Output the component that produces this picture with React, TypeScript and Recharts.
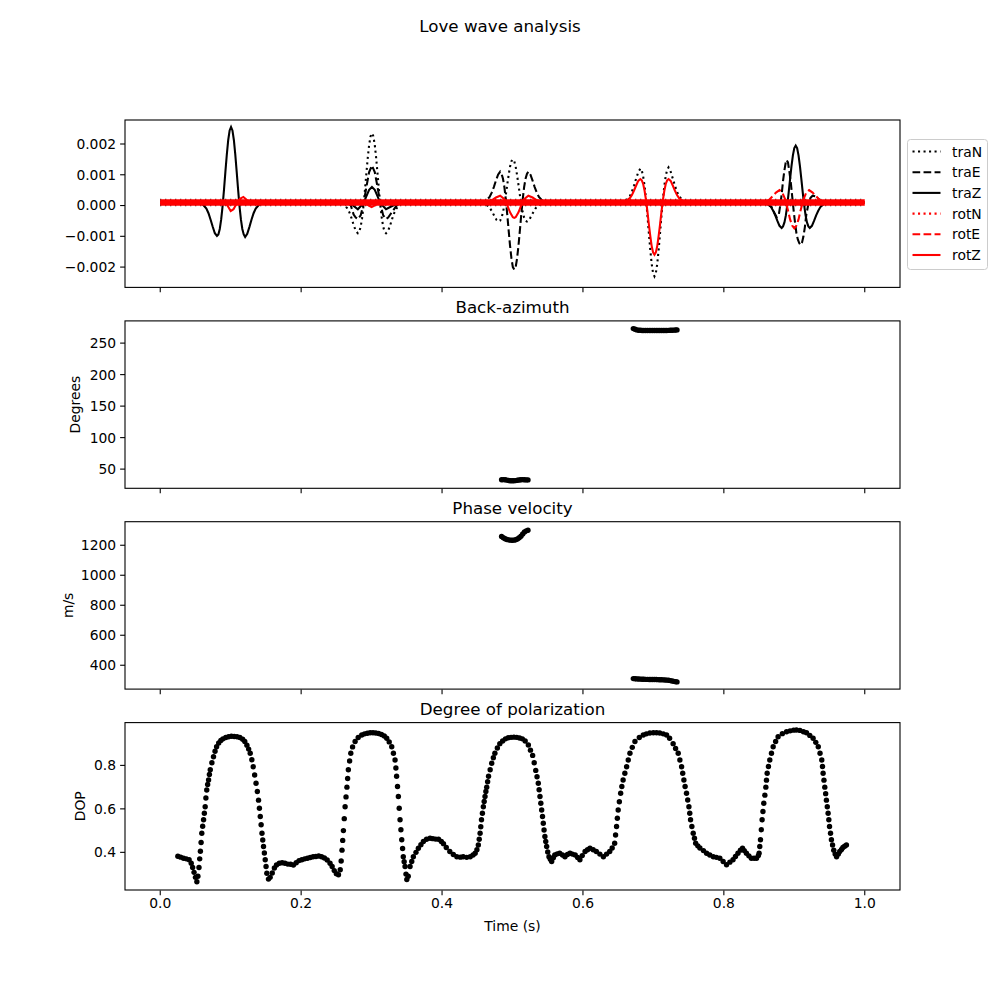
import { ComposedChart, Line, Scatter, XAxis, YAxis } from 'recharts'

type Pt = [number, number]

// seismograms: [time s, amplitude x 1e-3]
const TRA_N: Pt[] = [
  [0, 0.1], [0.255, 0.1],
  [0.2605, 0.04], [0.2655, -0.09], [0.2685, -0.22], [0.2715, -0.41], [0.2745, -0.63], [0.2775, -0.82], [0.2805, -0.9], [0.2825, -0.85], [0.2845, -0.69], [0.2865, -0.41], [0.2885, -0.01], [0.2905, 0.49], [0.2925, 1.02], [0.2945, 1.54], [0.2965, 1.97], [0.2985, 2.25], [0.3005, 2.35], [0.3025, 2.25], [0.3045, 1.97], [0.3065, 1.54], [0.3085, 1.02], [0.3105, 0.49], [0.3125, -0.01], [0.3145, -0.41], [0.3165, -0.69], [0.3185, -0.85], [0.3205, -0.9], [0.3235, -0.82], [0.3265, -0.63], [0.3295, -0.41], [0.3325, -0.22], [0.3355, -0.09], [0.3405, 0.04], [0.345, 0.1],
  [0.455, 0.1], [0.4605, 0.06], [0.4655, -0.02], [0.4685, -0.1], [0.4715, -0.22], [0.4745, -0.35], [0.4775, -0.47], [0.4805, -0.52], [0.4825, -0.49], [0.4845, -0.39], [0.4865, -0.22], [0.4885, 0.03], [0.4905, 0.34], [0.4925, 0.67], [0.4945, 0.99], [0.4965, 1.26], [0.4985, 1.44], [0.5005, 1.5], [0.5025, 1.44], [0.5045, 1.26], [0.5065, 0.99], [0.5085, 0.67], [0.5105, 0.34], [0.5125, 0.03], [0.5145, -0.22], [0.5165, -0.39], [0.5185, -0.49], [0.5205, -0.52], [0.5235, -0.47], [0.5265, -0.35], [0.5295, -0.22], [0.5325, -0.1], [0.5355, -0.02], [0.5405, 0.06], [0.545, 0.1],
  [0.655, 0.1], [0.6615, 0.17], [0.6665, 0.3], [0.6695, 0.45], [0.6725, 0.65], [0.6755, 0.88], [0.6785, 1.08], [0.6815, 1.2], [0.6835, 1.14], [0.6855, 0.94], [0.6875, 0.64], [0.6895, 0.21], [0.6915, -0.31], [0.6935, -0.88], [0.6955, -1.43], [0.6975, -1.89], [0.6995, -2.19], [0.7015, -2.3], [0.7035, -2.19], [0.7055, -1.89], [0.7075, -1.43], [0.7095, -0.88], [0.7115, -0.31], [0.7135, 0.21], [0.7155, 0.64], [0.7175, 0.96], [0.7195, 1.16], [0.7215, 1.24], [0.7245, 1.1], [0.7275, 0.88], [0.7305, 0.65], [0.7335, 0.45], [0.7365, 0.3], [0.7415, 0.17], [0.748, 0.1],
  [1, 0.1],
]

const TRA_E: Pt[] = [
  [0, 0.1], [0.265, 0.1],
  [0.2705, 0.0], [0.2745, -0.29], [0.2775, -0.39], [0.2805, -0.44], [0.2845, -0.32], [0.2885, 0.04], [0.2925, 0.59], [0.2965, 1.09], [0.3005, 1.3], [0.3045, 1.09], [0.3085, 0.59], [0.3125, 0.04], [0.3165, -0.32], [0.3205, -0.44], [0.3235, -0.39], [0.3265, -0.29], [0.3355, 0.0], [0.342, 0.1],
  [0.455, 0.1], [0.4625, 0.16], [0.4675, 0.28], [0.4705, 0.42], [0.4735, 0.6], [0.4765, 0.81], [0.4795, 1.0], [0.4825, 1.1], [0.4845, 1.03], [0.4865, 0.87], [0.4885, 0.6], [0.4905, 0.2], [0.4925, -0.28], [0.4945, -0.8], [0.4965, -1.3], [0.4985, -1.72], [0.5005, -2.0], [0.5025, -2.08], [0.5045, -2.0], [0.5065, -1.72], [0.5085, -1.3], [0.5105, -0.8], [0.5125, -0.28], [0.5145, 0.2], [0.5165, 0.6], [0.5185, 0.87], [0.5205, 1.03], [0.5225, 1.1], [0.5255, 1.0], [0.5285, 0.81], [0.5315, 0.6], [0.5345, 0.42], [0.5375, 0.28], [0.5425, 0.16], [0.55, 0.1],
  [0.855, 0.1], [0.862, 0.05], [0.868, -0.05], [0.872, -0.25], [0.875, -0.38], [0.878, -0.3], [0.88, 0.0], [0.882, 0.35], [0.884, 0.8], [0.886, 1.15], [0.888, 1.42], [0.889, 1.48], [0.891, 1.4], [0.893, 1.1], [0.895, 0.75], [0.897, 0.3], [0.899, -0.15], [0.901, -0.55], [0.903, -0.9], [0.905, -1.1], [0.907, -1.22], [0.909, -1.28], [0.911, -1.2], [0.913, -1.0], [0.915, -0.7], [0.917, -0.3], [0.92, 0.05], [0.923, 0.25], [0.926, 0.32], [0.93, 0.3], [0.935, 0.2], [0.942, 0.1],
  [1, 0.1],
]

const TRA_Z: Pt[] = [
  [0, 0.1], [0.055, 0.1],
  [0.0605, 0.03], [0.0655, -0.1], [0.0685, -0.25], [0.0715, -0.46], [0.0745, -0.69], [0.0775, -0.9], [0.0805, -0.99], [0.0825, -0.94], [0.0845, -0.76], [0.0865, -0.45], [0.0885, -0.02], [0.0905, 0.52], [0.0925, 1.1], [0.0945, 1.66], [0.0965, 2.13], [0.0985, 2.44], [0.1005, 2.55], [0.1025, 2.44], [0.1045, 2.13], [0.1065, 1.66], [0.1085, 1.1], [0.1105, 0.52], [0.1125, -0.02], [0.1145, -0.45], [0.1165, -0.76], [0.1185, -0.94], [0.1205, -1.02], [0.1235, -0.92], [0.1265, -0.7], [0.1295, -0.46], [0.1325, -0.25], [0.1355, -0.1], [0.1405, 0.03], [0.146, 0.1],
  [0.265, 0.1], [0.2705, 0.06], [0.2805, -0.12], [0.2885, 0.08], [0.2925, 0.3], [0.2965, 0.51], [0.3005, 0.6], [0.3045, 0.51], [0.3085, 0.3], [0.3125, 0.08], [0.3205, -0.12], [0.3305, 0.0], [0.34, 0.1],
  [0.857, 0.1], [0.862, 0.05], [0.867, -0.05], [0.87, -0.17], [0.873, -0.32], [0.876, -0.5], [0.879, -0.66], [0.882, -0.73], [0.884, -0.68], [0.886, -0.55], [0.888, -0.32], [0.89, 0.01], [0.892, 0.42], [0.894, 0.86], [0.896, 1.28], [0.898, 1.63], [0.9, 1.87], [0.902, 1.95], [0.904, 1.87], [0.906, 1.63], [0.908, 1.28], [0.91, 0.86], [0.912, 0.42], [0.914, 0.01], [0.916, -0.32], [0.918, -0.55], [0.92, -0.68], [0.922, -0.73], [0.925, -0.66], [0.928, -0.5], [0.931, -0.32], [0.934, -0.17], [0.937, -0.05], [0.942, 0.05], [0.947, 0.1],
  [1, 0.1],
]

const ROT_N: Pt[] = [[0, 0.1], [1, 0.1]]

const ROT_E: Pt[] = [
  [0, 0.1], [0.858, 0.1], [0.864, 0.18], [0.869, 0.3], [0.874, 0.42], [0.879, 0.5], [0.883, 0.42], [0.887, 0.2], [0.891, -0.15], [0.894, -0.45], [0.897, -0.65], [0.9, -0.74], [0.903, -0.65], [0.906, -0.45], [0.909, -0.15], [0.913, 0.2], [0.917, 0.42], [0.921, 0.5], [0.926, 0.42], [0.931, 0.3], [0.936, 0.18], [0.942, 0.1], [1, 0.1],
]

const ROT_Z: Pt[] = [
  [0, 0.1], [0.09, 0.1], [0.095, 0.02], [0.1, -0.18], [0.104, -0.12], [0.108, 0.05], [0.113, 0.22], [0.118, 0.28], [0.123, 0.18], [0.128, 0.1],
  [0.29, 0.1], [0.296, 0.0], [0.3, -0.05], [0.304, 0.0], [0.31, 0.1],
  [0.463, 0.1], [0.4705, 0.17], [0.4765, 0.26], [0.4825, 0.32], [0.4885, 0.21], [0.4925, 0.01], [0.4965, -0.22], [0.5005, -0.38], [0.5025, -0.4], [0.5045, -0.38], [0.5085, -0.22], [0.5125, 0.01], [0.5165, 0.21], [0.5225, 0.32], [0.5285, 0.26], [0.5345, 0.17], [0.5425, 0.11], [0.548, 0.1],
  [0.655, 0.1], [0.6615, 0.15], [0.6665, 0.24], [0.6695, 0.34], [0.6725, 0.49], [0.6755, 0.65], [0.6785, 0.8], [0.6815, 0.86], [0.6835, 0.82], [0.6855, 0.7], [0.6875, 0.48], [0.6895, 0.18], [0.6915, -0.19], [0.6935, -0.6], [0.6955, -0.98], [0.6975, -1.31], [0.6995, -1.52], [0.7015, -1.6], [0.7035, -1.52], [0.7055, -1.31], [0.7075, -0.98], [0.7095, -0.6], [0.7115, -0.19], [0.7135, 0.18], [0.7155, 0.48], [0.7175, 0.7], [0.7195, 0.82], [0.7215, 0.86], [0.7245, 0.8], [0.7275, 0.65], [0.7305, 0.49], [0.7335, 0.34], [0.7365, 0.24], [0.7415, 0.15], [0.748, 0.1],
  [1, 0.1],
]

// background noise level shared by all traces
const NOISE: Pt[] = [[0, 0.1], [1, 0.1]]

// back-azimuth (degrees)
const BAZ: Pt[] = [
  [0.4845, 33], [0.487, 33.3], [0.4895, 33], [0.492, 32.6], [0.4945, 32], [0.497, 31.6], [0.4995, 31.5], [0.502, 31.5], [0.5045, 31.8], [0.507, 32.3], [0.5095, 32.8], [0.512, 33.2], [0.5145, 33.3], [0.517, 33.1], [0.5195, 32.9], [0.522, 32.9],
  [0.6715, 273], [0.674, 272], [0.6765, 271], [0.679, 270.5], [0.6815, 270.3], [0.684, 270.1], [0.6865, 270], [0.689, 270], [0.6915, 270], [0.694, 270], [0.6965, 270], [0.699, 270], [0.7015, 270], [0.704, 270], [0.7065, 270], [0.709, 270], [0.7115, 270], [0.714, 270], [0.7165, 270], [0.719, 270.1], [0.7215, 270.2], [0.724, 270.3], [0.7265, 270.4], [0.729, 270.6], [0.7315, 270.8], [0.7335, 271],
]

// phase velocity (m/s)
const VEL: Pt[] = [
  [0.4845, 1258], [0.487, 1250], [0.4895, 1243], [0.492, 1238], [0.4945, 1236], [0.497, 1234], [0.4995, 1233], [0.502, 1234], [0.5045, 1237], [0.507, 1242], [0.5095, 1250], [0.512, 1260], [0.5145, 1275], [0.517, 1288], [0.5195, 1296], [0.522, 1300],
  [0.6715, 311], [0.674, 310], [0.6765, 309], [0.679, 308], [0.6815, 307.5], [0.684, 307], [0.6865, 306.5], [0.689, 306], [0.6915, 305.5], [0.694, 305], [0.6965, 305], [0.699, 305], [0.7015, 305], [0.704, 304.5], [0.7065, 304], [0.709, 303.5], [0.7115, 303], [0.714, 302.5], [0.7165, 302], [0.719, 301], [0.7215, 299.5], [0.724, 297.5], [0.7265, 295], [0.729, 292.5], [0.7315, 290.5], [0.7335, 289],
]

// degree of polarization
const DOP: Pt[] = [
  [0.025, 0.382], [0.029, 0.378], [0.033, 0.373], [0.037, 0.37], [0.041, 0.366], [0.044, 0.35], [0.046, 0.33], [0.048, 0.308], [0.05, 0.285], [0.052, 0.265],
  [0.0535, 0.29], [0.055, 0.33], [0.056, 0.37], [0.057, 0.405], [0.058, 0.445], [0.059, 0.488], [0.0602, 0.52], [0.0615, 0.55], [0.0626, 0.58], [0.0638, 0.61], [0.0648, 0.65], [0.066, 0.687], [0.0673, 0.712], [0.0686, 0.733], [0.0698, 0.758], [0.071, 0.78], [0.0733, 0.812], [0.0756, 0.84], [0.0778, 0.865], [0.08, 0.886], [0.083, 0.903], [0.086, 0.915],
  [0.089, 0.922], [0.093, 0.928], [0.097, 0.932], [0.101, 0.934], [0.105, 0.933], [0.109, 0.932], [0.113, 0.928], [0.117, 0.92], [0.12, 0.91],
  [0.123, 0.893], [0.1255, 0.875], [0.1277, 0.856], [0.13, 0.826], [0.132, 0.794], [0.134, 0.756], [0.136, 0.718], [0.1378, 0.68], [0.1395, 0.64], [0.1408, 0.603], [0.142, 0.565], [0.1432, 0.527], [0.1444, 0.488], [0.1455, 0.457], [0.1466, 0.427], [0.1478, 0.397], [0.149, 0.366], [0.1502, 0.335], [0.1513, 0.304], [0.1536, 0.277],
  [0.156, 0.285], [0.159, 0.305], [0.162, 0.328], [0.165, 0.342], [0.169, 0.35], [0.173, 0.352], [0.177, 0.35], [0.181, 0.346], [0.185, 0.345], [0.189, 0.342], [0.193, 0.352], [0.197, 0.362], [0.201, 0.366], [0.205, 0.37], [0.209, 0.373], [0.213, 0.376], [0.217, 0.38], [0.221, 0.381], [0.225, 0.383], [0.229, 0.38], [0.233, 0.374], [0.237, 0.365], [0.241, 0.35], [0.244, 0.335], [0.247, 0.316], [0.25, 0.302], [0.253, 0.297],
  [0.2555, 0.32], [0.2568, 0.36], [0.258, 0.41], [0.259, 0.455], [0.26, 0.5], [0.2612, 0.555], [0.2624, 0.61], [0.2637, 0.655], [0.265, 0.7], [0.266, 0.74], [0.267, 0.78], [0.2688, 0.82], [0.2705, 0.856], [0.273, 0.885], [0.2766, 0.91], [0.281, 0.928], [0.286, 0.94],
  [0.29, 0.945], [0.294, 0.948], [0.298, 0.95], [0.302, 0.95], [0.306, 0.949], [0.31, 0.947], [0.314, 0.942], [0.318, 0.935], [0.3215, 0.925],
  [0.325, 0.908], [0.3286, 0.886], [0.331, 0.856], [0.3333, 0.825], [0.3345, 0.788], [0.3355, 0.75], [0.3368, 0.703], [0.338, 0.657], [0.3392, 0.603], [0.3404, 0.55], [0.3416, 0.504], [0.3428, 0.458], [0.344, 0.418], [0.345, 0.38], [0.3462, 0.357], [0.3475, 0.335], [0.3488, 0.3], [0.35, 0.275],
  [0.352, 0.29], [0.3546, 0.335], [0.357, 0.358], [0.3593, 0.38], [0.363, 0.4], [0.3664, 0.419], [0.37, 0.435], [0.3735, 0.45], [0.378, 0.46], [0.383, 0.465], [0.387, 0.463], [0.391, 0.461], [0.395, 0.46], [0.399, 0.45], [0.402, 0.44], [0.406, 0.422], [0.411, 0.404], [0.416, 0.39], [0.421, 0.38], [0.426, 0.378], [0.43, 0.38], [0.435, 0.377], [0.44, 0.38], [0.444, 0.388], [0.447, 0.396], [0.4495, 0.412],
  [0.4515, 0.434], [0.4528, 0.46], [0.454, 0.488], [0.455, 0.518], [0.456, 0.55], [0.4573, 0.58], [0.4586, 0.61], [0.4598, 0.634], [0.461, 0.657], [0.4622, 0.68], [0.4634, 0.7], [0.4647, 0.725], [0.466, 0.75], [0.4683, 0.78], [0.4705, 0.81], [0.4728, 0.835], [0.475, 0.856], [0.4785, 0.88], [0.482, 0.9],
  [0.486, 0.912], [0.49, 0.922], [0.494, 0.927], [0.498, 0.929], [0.502, 0.93], [0.506, 0.929], [0.51, 0.926], [0.514, 0.922], [0.518, 0.912], [0.5225, 0.894],
  [0.5255, 0.87], [0.5286, 0.846], [0.5308, 0.812], [0.533, 0.777], [0.5348, 0.748], [0.5366, 0.718], [0.5378, 0.688], [0.539, 0.657], [0.5402, 0.626], [0.5414, 0.595], [0.5426, 0.565], [0.5437, 0.534], [0.5448, 0.503], [0.546, 0.473], [0.5472, 0.45], [0.5485, 0.427], [0.55, 0.402], [0.5518, 0.38], [0.5537, 0.368], [0.5556, 0.358],
  [0.558, 0.375], [0.56, 0.388], [0.5635, 0.393], [0.567, 0.396], [0.571, 0.388], [0.5745, 0.38], [0.578, 0.39], [0.5816, 0.396], [0.585, 0.392], [0.589, 0.388], [0.5925, 0.376], [0.5957, 0.366], [0.599, 0.385], [0.603, 0.404], [0.6065, 0.412], [0.61, 0.419], [0.6145, 0.412], [0.619, 0.404], [0.624, 0.392], [0.629, 0.38], [0.6335, 0.392], [0.638, 0.404], [0.6415, 0.42], [0.645, 0.442],
  [0.6463, 0.48], [0.6477, 0.519], [0.6488, 0.557], [0.65, 0.595], [0.6517, 0.633], [0.6535, 0.672], [0.6552, 0.703], [0.657, 0.733], [0.6595, 0.764], [0.662, 0.794], [0.6643, 0.825], [0.6667, 0.856], [0.67, 0.883], [0.6738, 0.91], [0.68, 0.928], [0.6856, 0.94],
  [0.69, 0.945], [0.695, 0.949], [0.7, 0.95], [0.7045, 0.95], [0.709, 0.949], [0.714, 0.945], [0.7187, 0.94], [0.723, 0.925], [0.728, 0.9],
  [0.7315, 0.878], [0.7352, 0.856], [0.7376, 0.825], [0.74, 0.794], [0.7416, 0.764], [0.7433, 0.733], [0.745, 0.703], [0.747, 0.672], [0.7487, 0.641], [0.7504, 0.61], [0.7516, 0.58], [0.7527, 0.55], [0.7546, 0.519], [0.7565, 0.488], [0.7583, 0.465], [0.76, 0.442], [0.763, 0.43], [0.766, 0.42],
  [0.771, 0.408], [0.7755, 0.396], [0.78, 0.388], [0.785, 0.38], [0.7895, 0.377], [0.7943, 0.373], [0.799, 0.358], [0.8038, 0.343], [0.8085, 0.355], [0.813, 0.366], [0.8165, 0.381], [0.82, 0.396], [0.8235, 0.41], [0.8265, 0.419], [0.829, 0.408], [0.832, 0.396], [0.8355, 0.384], [0.839, 0.373], [0.843, 0.373], [0.8464, 0.373], [0.849, 0.385],
  [0.85, 0.396], [0.851, 0.427], [0.852, 0.458], [0.8532, 0.504], [0.8543, 0.55], [0.8555, 0.588], [0.8567, 0.626], [0.8582, 0.663], [0.8596, 0.7], [0.8605, 0.732], [0.8615, 0.764], [0.8633, 0.795], [0.8652, 0.825], [0.8676, 0.856], [0.87, 0.886], [0.8735, 0.91], [0.877, 0.932], [0.883, 0.946],
  [0.889, 0.955], [0.894, 0.959], [0.899, 0.962], [0.903, 0.963], [0.908, 0.961], [0.913, 0.955], [0.9173, 0.95], [0.922, 0.938], [0.9267, 0.925], [0.9305, 0.906], [0.934, 0.886],
  [0.9365, 0.856], [0.939, 0.825], [0.94, 0.795], [0.9409, 0.764], [0.9421, 0.732], [0.9433, 0.7], [0.9445, 0.67], [0.9456, 0.64], [0.9468, 0.61], [0.948, 0.58], [0.949, 0.55], [0.95, 0.519], [0.9514, 0.488], [0.9527, 0.458], [0.9543, 0.434], [0.956, 0.41], [0.958, 0.392], [0.96, 0.38],
  [0.9625, 0.392], [0.9645, 0.404], [0.967, 0.413], [0.969, 0.422], [0.9715, 0.428], [0.974, 0.434],
]

const X_TICKS = [0, 0.2, 0.4, 0.6, 0.8, 1.0]

const FONT = 'DejaVu Sans'
const FIG = 1000
const AX_LEFT = 125
const AX_W = 775
const AX_H = 167.4
const MT = 10
const XH = 32
const TOPS = [120, 320.9, 521.7, 722.6]

const LW = 2.08
const DOTTED = '2.08 3.43'
const DASHED = '7.7 3.33'

const SERIES = [
  { name: 'traN', data: TRA_N, color: '#000000', dash: DOTTED },
  { name: 'traE', data: TRA_E, color: '#000000', dash: DASHED },
  { name: 'traZ', data: TRA_Z, color: '#000000', dash: undefined },
  { name: 'rotN', data: ROT_N, color: '#ff0000', dash: DOTTED },
  { name: 'rotE', data: ROT_E, color: '#ff0000', dash: DASHED },
  { name: 'rotZ', data: ROT_Z, color: '#ff0000', dash: undefined },
]

const pts = (a: Pt[]) => a.map(([t, v]) => ({ t, v }))
const minus = (s: string) => s.replace('-', '\u2212')

const tickStyle = { fill: '#000', fontSize: 13.9, fontFamily: FONT }

function Panel({ idx, domain, ticks, fmt, children }: any) {
  const last = idx === 3
  return (
    <div style={{ position: 'absolute', left: 0, top: TOPS[idx] - MT }}>
      <ComposedChart
        width={FIG}
        height={MT + AX_H + XH}
        margin={{ top: MT, right: FIG - AX_LEFT - AX_W, bottom: 0, left: 0 }}
      >
        <XAxis
          dataKey="t"
          type="number"
          domain={[-0.05, 1.05]}
          ticks={X_TICKS}
          interval={0}
          allowDataOverflow
          axisLine={false}
          tickLine={{ stroke: '#000', strokeWidth: 1.1 }}
          tickSize={4.9}
          tickMargin={3}
          height={XH}
          tick={tickStyle}
          tickFormatter={last ? (v: number) => v.toFixed(1) : () => ''}
        />
        <YAxis
          dataKey="v"
          type="number"
          domain={domain}
          ticks={ticks}
          interval={0}
          allowDataOverflow
          width={AX_LEFT}
          axisLine={false}
          tickLine={{ stroke: '#000', strokeWidth: 1.1 }}
          tickSize={4.9}
          tickMargin={4}
          tick={tickStyle}
          tickFormatter={fmt}
        />
        {children}
      </ComposedChart>
    </div>
  )
}

const dotShape = (p: any) => <circle cx={p.cx} cy={p.cy} r={2.7} fill="#000" />

export default function App() {
  const blackSeries = SERIES.slice(0, 3)
  const redSeries = SERIES.slice(3)
  const legendTop = 151.5
  const legendStep = 20.7
  return (
    <div style={{ position: 'absolute', left: 0, top: 0, width: FIG, height: FIG, background: '#fff', fontFamily: FONT }}>
      <Panel idx={0} domain={[-2.66, 2.78]} ticks={[-2, -1, 0, 1, 2]} fmt={(v: number) => minus((v / 1000).toFixed(3))}>
        <Line data={pts(NOISE)} dataKey="v" stroke="#000" strokeWidth={7.6} strokeDasharray="1 4" dot={false} isAnimationActive={false} />
        {blackSeries.map((s) => (
          <Line key={s.name} data={pts(s.data)} dataKey="v" stroke={s.color} strokeWidth={LW} strokeDasharray={s.dash} dot={false} isAnimationActive={false} />
        ))}
        <Line data={pts(NOISE)} dataKey="v" stroke="#ff0000" strokeWidth={6.4} dot={false} isAnimationActive={false} />
        {redSeries.map((s) => (
          <Line key={s.name} data={pts(s.data)} dataKey="v" stroke={s.color} strokeWidth={LW} strokeDasharray={s.dash} dot={false} isAnimationActive={false} />
        ))}
      </Panel>
      <Panel idx={1} domain={[19.4, 285.1]} ticks={[50, 100, 150, 200, 250]} fmt={(v: number) => String(v)}>
        <Scatter data={pts(BAZ)} fill="#000" shape={dotShape} isAnimationActive={false} />
      </Panel>
      <Panel idx={2} domain={[239, 1355]} ticks={[400, 600, 800, 1000, 1200]} fmt={(v: number) => String(v)}>
        <Scatter data={pts(VEL)} fill="#000" shape={dotShape} isAnimationActive={false} />
      </Panel>
      <Panel idx={3} domain={[0.225, 0.995]} ticks={[0.4, 0.6, 0.8]} fmt={(v: number) => v.toFixed(1)}>
        <Scatter data={pts(DOP)} fill="#000" shape={dotShape} isAnimationActive={false} />
      </Panel>

      <svg width={FIG} height={FIG} style={{ position: 'absolute', left: 0, top: 0, pointerEvents: 'none' }} fontFamily={FONT}>
        {TOPS.map((t) => (
          <rect key={t} x={AX_LEFT} y={t} width={AX_W} height={AX_H} fill="none" stroke="#000" strokeWidth={1.1} />
        ))}
        <text x={500} y={26} textAnchor="middle" dominantBaseline="central" fontSize={16.7}>Love wave analysis</text>
        <text x={AX_LEFT + AX_W / 2} y={307} textAnchor="middle" dominantBaseline="central" fontSize={16.7}>Back-azimuth</text>
        <text x={AX_LEFT + AX_W / 2} y={508} textAnchor="middle" dominantBaseline="central" fontSize={16.7}>Phase velocity</text>
        <text x={AX_LEFT + AX_W / 2} y={709} textAnchor="middle" dominantBaseline="central" fontSize={16.7}>Degree of polarization</text>
        <text x={AX_LEFT + AX_W / 2} y={926} textAnchor="middle" dominantBaseline="central" fontSize={13.9}>Time (s)</text>
        <text transform={`translate(75, ${TOPS[1] + AX_H / 2}) rotate(-90)`} textAnchor="middle" dominantBaseline="central" fontSize={13.9}>Degrees</text>
        <text transform={`translate(68, ${TOPS[2] + AX_H / 2}) rotate(-90)`} textAnchor="middle" dominantBaseline="central" fontSize={13.9}>m/s</text>
        <text transform={`translate(80, ${TOPS[3] + AX_H / 2}) rotate(-90)`} textAnchor="middle" dominantBaseline="central" fontSize={13.9}>DOP</text>

        <rect x={907.5} y={139.5} width={80} height={130} rx={3} fill="#fff" fillOpacity={0.8} stroke="#cccccc" strokeWidth={1} />
        {SERIES.map((s, i) => {
          const y = legendTop + i * legendStep
          return (
            <g key={s.name}>
              <line x1={912.5} x2={940.5} y1={y} y2={y} stroke={s.color} strokeWidth={LW} strokeDasharray={s.dash} />
              <text x={952} y={y} dominantBaseline="central" fontSize={13.9}>{s.name}</text>
            </g>
          )
        })}
      </svg>
    </div>
  )
}
